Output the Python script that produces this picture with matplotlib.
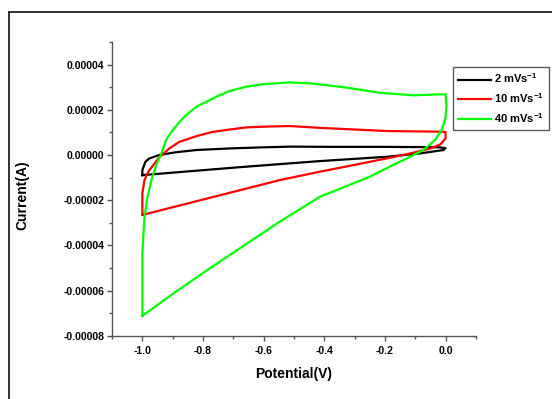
import numpy as np
import matplotlib
matplotlib.use('Agg')
import matplotlib.pyplot as plt
from matplotlib.ticker import FormatStrFormatter, MultipleLocator
from matplotlib.lines import Line2D

plt.rcParams['font.family'] = ['Liberation Sans', 'DejaVu Sans']
plt.rcParams['font.weight'] = 'bold'
plt.rcParams['axes.unicode_minus'] = False
plt.rcParams['mathtext.fontset'] = 'custom'
plt.rcParams['mathtext.rm'] = 'Liberation Sans:bold'
plt.rcParams['mathtext.bf'] = 'Liberation Sans:bold'

# potential (V) and current (x1e-5 A), one closed loop each
pot_2 = [-1.0, -1.0, -0.99, -0.977, -0.944, -0.89, -0.822, -0.712, -0.6, -0.514, -0.38, -0.215,
         -0.084, -0.02, 0.0, -0.007, -0.084, -0.194, -0.415, -0.514, -0.68, -0.845, -1.0]
cur_2 = [-0.89, -0.67, -0.30, -0.15, 0.0, 0.12, 0.22, 0.29, 0.34, 0.37, 0.36, 0.36,
         0.35, 0.34, 0.30, 0.22, 0.07, -0.08, -0.27, -0.37, -0.54, -0.72, -0.89]

pot_10 = [-1.0, -1.0, -0.993, -0.985, -0.977, -0.96, -0.944, -0.91, -0.878, -0.82, -0.769,
          -0.71, -0.657, -0.58, -0.514, -0.415, -0.194, -0.02, 0.0, 0.0, -0.017, -0.05,
          -0.116, -0.194, -0.305, -0.415, -0.547, -0.75, -1.0]
cur_10 = [-2.65, -1.68, -1.11, -0.86, -0.67, -0.38, -0.10, 0.30, 0.58, 0.84, 1.02,
          1.13, 1.22, 1.26, 1.28, 1.20, 1.06, 1.03, 1.02, 0.73, 0.47, 0.29,
          0.07, -0.15, -0.45, -0.74, -1.11, -1.80, -2.65]

pot_40 = [-1.0, -1.0, -0.993, -0.983, -0.97, -0.954, -0.937, -0.922, -0.9, -0.878,
          -0.856, -0.822, -0.789, -0.745, -0.712, -0.657, -0.602, -0.514, -0.438, -0.327,
          -0.217, -0.107, -0.02, 0.0, 0.003, 0.0, -0.013, -0.035, -0.073, -0.117,
          -0.173, -0.25, -0.327, -0.415, -0.547, -0.785, -0.889, -1.0]
cur_40 = [-7.11, -4.34, -2.73, -1.85, -1.11, -0.44, 0.07, 0.66, 1.10, 1.45,
          1.76, 2.13, 2.35, 2.65, 2.83, 3.02, 3.13, 3.21, 3.16, 2.98,
          2.75, 2.64, 2.68, 2.68, 2.20, 1.62, 1.10, 0.66, 0.22, -0.08,
          -0.44, -0.96, -1.38, -1.85, -2.95, -5.08, -6.04, -7.11]

labels = [r'2 mVs$^{\mathbf{-1}}$', r'10 mVs$^{\mathbf{-1}}$', r'40 mVs$^{\mathbf{-1}}$']
colors = ['black', '#ff0000', '#00ff00']

fig = plt.figure(figsize=(5.52, 3.99), dpi=100)
ax = fig.add_axes([0.203, 0.158, 0.659, 0.737])

series = [(pot_2, cur_2), (pot_10, cur_10), (pot_40, cur_40)]
for (x, y), lab, c in zip(series, labels, colors):
    ax.plot(x, np.array(y) * 1e-5, color=c, linewidth=1.6, label=lab)

ax.set_xlim(-1.1, 0.1)
ax.set_ylim(-0.00008, 0.00005)
ax.xaxis.set_major_locator(MultipleLocator(0.2))
ax.xaxis.set_minor_locator(MultipleLocator(0.1))
ax.yaxis.set_major_locator(MultipleLocator(0.00002))
ax.yaxis.set_minor_locator(MultipleLocator(0.00001))
ax.xaxis.set_major_formatter(FormatStrFormatter('%.1f'))
ax.yaxis.set_major_formatter(FormatStrFormatter('%.5f'))

for s in ['top', 'right']:
    ax.spines[s].set_visible(False)
for s in ['left', 'bottom']:
    ax.spines[s].set_color('#555555')
    ax.spines[s].set_linewidth(1.0)

ax.tick_params(which='major', direction='out', length=3.5, width=1, color='#555555', labelsize=7.5)
ax.tick_params(which='minor', direction='out', length=2, width=1, color='#555555')
ax.tick_params(axis='y', pad=2)
ax.tick_params(axis='x', pad=4)

ax.set_xlabel('Potential(V)', fontsize=10, fontweight='bold')
ax.set_ylabel('Current(A)', fontsize=10, fontweight='bold')
ax.xaxis.set_label_coords(0.5, -0.105)
ax.yaxis.set_label_coords(-0.228, 0.48)

leg = ax.legend(loc='upper left', bbox_to_anchor=(0.82, 0.833), bbox_transform=fig.transFigure,
                fontsize=8, frameon=True, fancybox=False, handlelength=3.0,
                handletextpad=0.3, labelspacing=0.55, borderpad=0.45, borderaxespad=0)
leg.get_frame().set_edgecolor('#333333')
leg.get_frame().set_linewidth(1.0)
for t in leg.get_texts():
    t.set_fontweight('bold')

# outer frame of the original figure
fx = 9 / 552
fy = 1 - 12 / 399
fig.add_artist(Line2D([fx, fx], [0, fy], transform=fig.transFigure, color='#222222', linewidth=1.3))
fig.add_artist(Line2D([fx, 1], [fy, fy], transform=fig.transFigure, color='#222222', linewidth=1.3))

fig.savefig('out.png', dpi=100)
